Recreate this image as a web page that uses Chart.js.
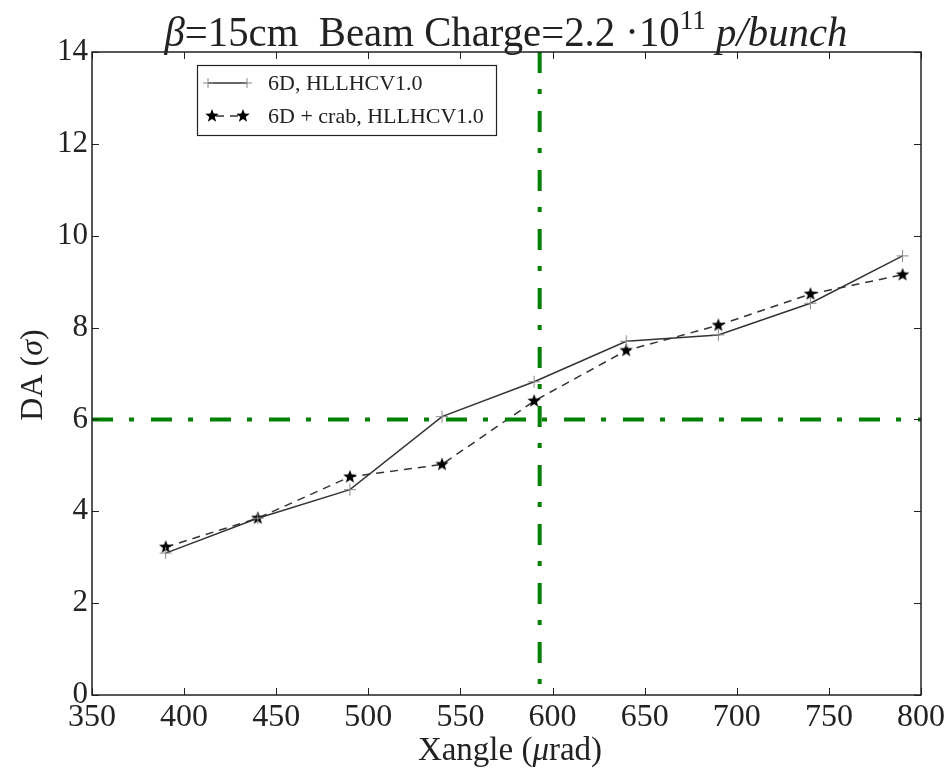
<!DOCTYPE html>
<html><head><meta charset="utf-8">
<script src="https://cdn.jsdelivr.net/npm/chart.js@4.4.1/dist/chart.umd.min.js"></script>
<style>html,body{margin:0;padding:0;background:#fff}#wrap{width:952px;height:774px}</style>
</head><body><div id="wrap"><canvas id="c" width="952" height="774"></canvas></div>
<script>
// ---- data ----
const xangle = [390, 440, 490, 540, 590, 640, 690, 740, 790];
const da6D = [3.09, 3.85, 4.47, 6.06, 6.82, 7.70, 7.84, 8.53, 9.56];
const da6DCrab = [3.22, 3.85, 4.75, 5.02, 6.40, 7.50, 8.05, 8.73, 9.15];
const xTicks = [350, 400, 450, 500, 550, 600, 650, 700, 750, 800];
const yTicks = [0, 2, 4, 6, 8, 10, 12, 14];
const daThreshold = 6;
const xangleNominal = 593;
const seriesLabels = ['6D, HLLHCV1.0', '6D + crab, HLLHCV1.0'];

const SERIF = '"Liberation Serif", "DejaVu Serif", serif';

function makeStar(r) {
  const s = Math.ceil(r * 2 + 2);
  const c = document.createElement('canvas');
  c.width = s; c.height = s;
  const g = c.getContext('2d');
  g.beginPath();
  for (let i = 0; i < 10; i++) {
    const a = -Math.PI / 2 + i * Math.PI / 5;
    const rr = i % 2 ? r * 0.42 : r;
    g.lineTo(s / 2 + rr * Math.cos(a), s / 2 + rr * Math.sin(a));
  }
  g.closePath();
  g.fillStyle = '#000';
  g.fill();
  return c;
}
const starImg = makeStar(7);

function drawRich(ctx, segs, cx, cy, targetW, rot) {
  ctx.save();
  let W = 0;
  segs.forEach(s => { ctx.font = s.font; s.w = ctx.measureText(s.t).width; W += s.w; });
  const sx = targetW ? targetW / W : 1;
  ctx.translate(cx, cy);
  if (rot) ctx.rotate(rot);
  ctx.scale(sx, 1);
  let x = -W / 2;
  ctx.fillStyle = '#222';
  ctx.textBaseline = 'alphabetic';
  ctx.textAlign = 'left';
  segs.forEach(s => { ctx.font = s.font; ctx.fillText(s.t, x, s.dy || 0); x += s.w; });
  ctx.restore();
}

const decor = {
  id: 'decor',
  afterDraw(chart) {
    const ctx = chart.ctx, a = chart.chartArea;
    const xs = chart.scales.x, ys = chart.scales.y;
    ctx.save();
    // inward ticks on all sides
    ctx.strokeStyle = '#222';
    ctx.lineWidth = 1;
    const tl = 7;
    xTicks.forEach(v => {
      const p = Math.round(xs.getPixelForValue(v)) + 0.5;
      ctx.beginPath(); ctx.moveTo(p, a.bottom); ctx.lineTo(p, a.bottom - tl); ctx.stroke();
      ctx.beginPath(); ctx.moveTo(p, a.top); ctx.lineTo(p, a.top + tl); ctx.stroke();
    });
    yTicks.forEach(v => {
      const p = Math.round(ys.getPixelForValue(v)) + 0.5;
      ctx.beginPath(); ctx.moveTo(a.left, p); ctx.lineTo(a.left + tl, p); ctx.stroke();
      ctx.beginPath(); ctx.moveTo(a.right, p); ctx.lineTo(a.right - tl, p); ctx.stroke();
    });
    // frame
    ctx.lineWidth = 1.5;
    ctx.strokeRect(a.left, a.top, a.right - a.left, a.bottom - a.top);

    // legend
    const lx = 197, ly = 65, lw = 299, lh = 70;
    ctx.fillStyle = '#fff';
    ctx.fillRect(lx, ly, lw, lh);
    ctx.lineWidth = 1.2;
    ctx.strokeStyle = '#222';
    ctx.strokeRect(lx + 0.5, ly + 0.5, lw, lh);
    const r1 = 83, r2 = 116, sx0 = 208, sx1 = 247;
    ctx.strokeStyle = '#333'; ctx.lineWidth = 1.5;
    ctx.beginPath(); ctx.moveTo(sx0, r1); ctx.lineTo(sx1, r1); ctx.stroke();
    ctx.strokeStyle = '#888'; ctx.lineWidth = 1;
    [sx0, sx1].forEach(px => {
      ctx.beginPath(); ctx.moveTo(px - 5, r1); ctx.lineTo(px + 5, r1); ctx.moveTo(px, r1 - 5); ctx.lineTo(px, r1 + 5); ctx.stroke();
    });
    ctx.strokeStyle = '#333'; ctx.lineWidth = 1.5; ctx.setLineDash([8, 6]);
    ctx.beginPath(); ctx.moveTo(sx0 + 8, r2); ctx.lineTo(sx1 - 8, r2); ctx.stroke();
    ctx.setLineDash([]);
    [sx0 + 4, sx1 - 4].forEach(px => ctx.drawImage(starImg, px - starImg.width / 2, r2 - starImg.height / 2));
    ctx.fillStyle = '#222';
    ctx.font = '22px ' + SERIF;
    ctx.textBaseline = 'middle';
    ctx.fillText(seriesLabels[0], 268, r1 + 1);
    ctx.fillText(seriesLabels[1], 268, r2 + 1);
    ctx.restore();

    // title
    drawRich(ctx, [
      { t: 'β', font: 'italic 42px ' + SERIF },
      { t: '=15cm  Beam Charge=2.2 ·10', font: '42px ' + SERIF },
      { t: '11', font: '28px ' + SERIF, dy: -17 },
      { t: ' p/bunch', font: 'italic 42px ' + SERIF }
    ], 506, 46, 683, 0);
    // x title
    drawRich(ctx, [
      { t: 'Xangle (', font: '33px ' + SERIF },
      { t: 'μ', font: 'italic 33px ' + SERIF },
      { t: 'rad)', font: '33px ' + SERIF }
    ], 510, 760, 0, 0);
    // y title
    drawRich(ctx, [
      { t: 'DA (', font: '32px ' + SERIF },
      { t: 'σ', font: 'italic 32px ' + SERIF },
      { t: ')', font: '32px ' + SERIF }
    ], 42, 375, 0, -Math.PI / 2);
  }
};

const toPts = (xs, ys) => xs.map((x, i) => ({ x: x, y: ys[i] }));

new Chart(document.getElementById('c'), {
  type: 'line',
  data: {
    datasets: [
      {
        label: 'threshold', data: [{ x: 350, y: daThreshold }, { x: 800, y: daThreshold }],
        borderColor: '#008000', borderWidth: 4, borderDash: [21, 16, 5, 17], pointRadius: 0, order: 0
      },
      {
        label: 'nominal', data: [{ x: xangleNominal, y: 14 }, { x: xangleNominal, y: 0 }],
        borderColor: '#008000', borderWidth: 4, borderDash: [21, 16, 5, 17], pointRadius: 0, order: 0
      },
      {
        label: seriesLabels[0], data: toPts(xangle, da6D),
        borderColor: '#333', borderWidth: 1.5, pointStyle: 'cross', pointRadius: 6,
        pointBorderColor: '#888', pointBorderWidth: 1, order: 1
      },
      {
        label: seriesLabels[1], data: toPts(xangle, da6DCrab),
        borderColor: '#333', borderWidth: 1.5, borderDash: [8, 6], pointStyle: starImg,
        pointRadius: 7, order: 1
      }
    ]
  },
  options: {
    responsive: false,
    animation: false,
    events: [],
    layout: { padding: { left: 0, top: 52, right: 31, bottom: 34 } },
    plugins: { legend: { display: false }, tooltip: { enabled: false }, title: { display: false } },
    scales: {
      x: {
        type: 'linear', min: 350, max: 800,
        afterFit: s => { s.height = 45; },
        afterBuildTicks: s => { s.ticks = xTicks.map(v => ({ value: v })); },
        grid: { display: false, drawTicks: false },
        border: { display: false },
        ticks: { padding: 3, color: '#222', font: { family: SERIF, size: 32 }, maxRotation: 0, autoSkip: false }
      },
      y: {
        type: 'linear', min: 0, max: 14,
        afterFit: s => { s.width = 92; },
        afterBuildTicks: s => { s.ticks = yTicks.map(v => ({ value: v })); },
        grid: { display: false, drawTicks: false },
        border: { display: false },
        ticks: { padding: 4, color: '#222', font: { family: SERIF, size: 31 }, autoSkip: false }
      }
    }
  },
  plugins: [decor]
});
</script>
</body></html>
